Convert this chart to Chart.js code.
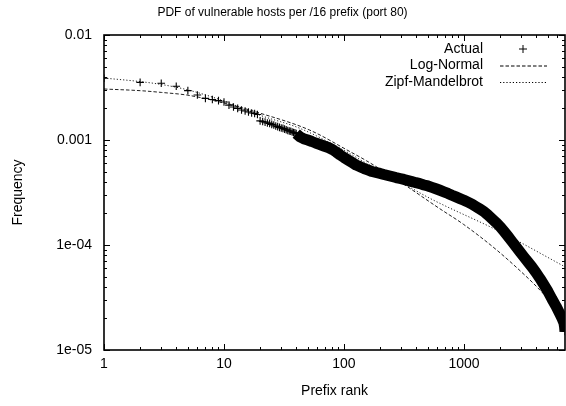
<!DOCTYPE html>
<html>
<head>
<meta charset="utf-8">
<script src="https://cdn.jsdelivr.net/npm/chart.js@4.4.1/dist/chart.umd.min.js"></script>
<style>
  html, body { margin: 0; padding: 0; background: #fff; }
  #wrap { width: 566px; height: 406px; }
</style>
</head>
<body>
<div id="wrap"><canvas id="chart" width="566" height="406"></canvas></div>
<script>
// values
var ranks = [1, 2, 3, 4, 5, 6, 7, 8, 9, 10, 11, 12, 13, 14, 15, 16, 17, 18, 19,
  20, 21, 22, 23, 24, 25, 26, 27, 28, 29, 30, 31, 32, 33, 34, 35, 36, 37, 38, 39, 40,
  43, 46, 50, 54, 58, 63, 68, 74, 80, 86,
  93, 100, 108, 117, 126, 136, 147, 158, 171, 185, 200, 215, 232, 251, 271, 293,
  316, 341, 368, 398, 430, 464, 501, 541, 584, 631, 681, 736, 794, 858, 926, 1000,
  1080, 1166, 1259, 1359, 1468, 1585, 1711, 1848, 1995, 2154, 2326, 2512, 2712,
  2929, 3162, 3415, 3687, 3981, 4299, 4642, 5012, 5412, 5843, 6310, 6600, 6813, 6900, 6950];
var actual = [0.00387, 0.00354, 0.00347, 0.00325, 0.00295, 0.00268, 0.00249, 0.00243,
  0.00237, 0.00230, 0.00215, 0.00206, 0.00200, 0.00193, 0.00189, 0.00185, 0.00181,
  0.00179, 0.00175,
  0.00152, 0.00150, 0.00148, 0.00145, 0.00144, 0.00141, 0.00139, 0.00136, 0.00134,
  0.00132, 0.00130, 0.00129, 0.00127, 0.00125, 0.00123, 0.00122, 0.00121, 0.00119,
  0.00118, 0.00117, 0.00115,
  0.00107, 0.00103, 0.00100, 0.000968, 0.000936, 0.000906,
  0.000877, 0.000848, 0.000812, 0.000769, 0.000720, 0.000681, 0.000645, 0.000610,
  0.000578, 0.000557, 0.000535, 0.000518, 0.000501, 0.000490, 0.000480, 0.000469,
  0.000459, 0.000449, 0.000439, 0.000430, 0.000421, 0.000411, 0.000402, 0.000392,
  0.000384, 0.000373, 0.000365, 0.000354, 0.000343, 0.000332, 0.000321, 0.000310,
  0.000298, 0.000287, 0.000277, 0.000267, 0.000256, 0.000245, 0.000232, 0.000220,
  0.000208, 0.000193, 0.000178, 0.000164, 0.000150, 0.000135, 0.000121, 0.000108,
  0.0000965, 0.0000862, 0.0000769, 0.0000689, 0.0000617, 0.0000547, 0.0000480,
  0.0000416, 0.0000361, 0.0000306, 0.0000262, 0.0000220, 0.0000198, 0.0000181,
  0.0000165, 0.0000150];

var lnRanks = [1, 2, 3, 5, 10, 20, 52, 112, 154, 293, 631, 986, 1873, 3548, 5923, 6950];
var lnFreq = [0.00306, 0.00295, 0.00284, 0.00267, 0.00225, 0.00180, 0.00124, 0.000776,
  0.000634, 0.000400, 0.000221, 0.000158, 0.0000896, 0.0000464, 0.0000258, 0.0000224];

var zmRanks = [1, 2, 3, 5, 10, 20, 43, 93, 154, 293, 521, 1995, 6950];
var zmFreq = [0.00389, 0.00360, 0.00338, 0.00300, 0.00235, 0.00172, 0.00129, 0.000835,
  0.000600, 0.000401, 0.000278, 0.000134, 0.0000620];

var seriesNames = ['Actual', 'Log-Normal', 'Zipf-Mandelbrot'];
var xTickValues = [1, 10, 100, 1000];
var xTickLabels = ['1', '10', '100', '1000'];
var yTickValues = [1e-5, 1e-4, 1e-3, 1e-2];
var yTickLabels = ['1e-05', '1e-04', '0.001', '0.01'];

var FONT = "'Liberation Sans', Arial, Helvetica, sans-serif";
Chart.defaults.font.family = FONT;
Chart.defaults.color = '#000';

function pairs(xs, ys) {
  return xs.map(function (x, i) { return {x: x, y: ys[i]}; });
}

function labelFor(values, labels, v) {
  for (var i = 0; i < values.length; i++) {
    if (Math.abs(Math.log10(v) - Math.log10(values[i])) < 1e-6) return labels[i];
  }
  return '';
}

// gnuplot style frame: box, inward ticks on all sides, key in the top right corner
var framePlugin = {
  id: 'frame',
  afterDraw: function (chart) {
    var ctx = chart.ctx, a = chart.chartArea;
    var xs = chart.scales.x, ys = chart.scales.y;
    ctx.save();
    ctx.strokeStyle = '#000';
    ctx.lineWidth = 1;
    ctx.setLineDash([]);

    ctx.beginPath();
    var k, m, v, p, len;
    for (k = 0; k <= 4; k++) {
      for (m = 1; m <= 9; m++) {
        v = m * Math.pow(10, k);
        if (v < xs.min || v > xs.max) continue;
        p = Math.round(xs.getPixelForValue(v)) + 0.5;
        len = m === 1 ? 6 : 3;
        ctx.moveTo(p, a.bottom); ctx.lineTo(p, a.bottom - len);
        ctx.moveTo(p, a.top); ctx.lineTo(p, a.top + len);
      }
    }
    for (k = -5; k <= -2; k++) {
      for (m = 1; m <= 9; m++) {
        v = m * Math.pow(10, k);
        if (v < ys.min * 0.999 || v > ys.max * 1.001) continue;
        p = Math.round(ys.getPixelForValue(v)) + 0.5;
        len = m === 1 ? 6 : 3;
        ctx.moveTo(a.left, p); ctx.lineTo(a.left + len, p);
        ctx.moveTo(a.right, p); ctx.lineTo(a.right - len, p);
      }
    }
    ctx.stroke();

    ctx.lineWidth = 1.6;
    ctx.strokeRect(a.left, a.top, a.right - a.left, a.bottom - a.top);

    // key
    ctx.font = '14px ' + FONT;
    ctx.fillStyle = '#000';
    ctx.textAlign = 'right';
    ctx.textBaseline = 'middle';
    var textX = 483, rowY = [49, 65.5, 82];
    ctx.fillText(seriesNames[0], textX, rowY[0]);
    ctx.fillText(seriesNames[1], textX, rowY[1]);
    ctx.fillText(seriesNames[2], textX, rowY[2]);

    ctx.lineWidth = 1;
    ctx.beginPath();
    ctx.moveTo(519, rowY[0]); ctx.lineTo(527, rowY[0]);
    ctx.moveTo(523, rowY[0] - 4); ctx.lineTo(523, rowY[0] + 4);
    ctx.stroke();

    ctx.setLineDash([3.5, 2]);
    ctx.beginPath();
    ctx.moveTo(500, rowY[1] + 0.5); ctx.lineTo(547, rowY[1] + 0.5);
    ctx.stroke();

    ctx.setLineDash([1.2, 2]);
    ctx.beginPath();
    ctx.moveTo(500, rowY[2] + 0.5); ctx.lineTo(547, rowY[2] + 0.5);
    ctx.stroke();
    ctx.restore();
  }
};

new Chart(document.getElementById('chart'), {
  type: 'scatter',
  data: {
    datasets: [
      {
        label: seriesNames[0],
        data: pairs(ranks, actual),
        pointStyle: 'cross',
        pointRadius: 3.8,
        pointBorderWidth: 1.1,
        borderColor: '#000',
        backgroundColor: '#000',
        // past rank 40 the crosses sit so close together they form a solid band
        showLine: true,
        borderWidth: 11,
        borderJoinStyle: 'round',
        segment: {
          borderColor: function (c) { return c.p0.parsed.x >= 40 ? '#000' : 'rgba(0,0,0,0)'; }
        }
      },
      {
        label: seriesNames[1],
        data: pairs(lnRanks, lnFreq),
        showLine: true,
        pointRadius: 0,
        borderColor: '#222',
        borderWidth: 1,
        borderDash: [3.5, 2],
        cubicInterpolationMode: 'monotone'
      },
      {
        label: seriesNames[2],
        data: pairs(zmRanks, zmFreq),
        showLine: true,
        pointRadius: 0,
        borderColor: '#222',
        borderWidth: 1,
        borderDash: [1.2, 2],
        cubicInterpolationMode: 'monotone'
      }
    ]
  },
  options: {
    responsive: false,
    animation: false,
    layout: { autoPadding: false, padding: { left: 0, right: 1, top: 0, bottom: 0 } },
    plugins: {
      legend: { display: false },
      tooltip: { enabled: false },
      title: {
        display: true,
        text: 'PDF of vulnerable hosts per /16 prefix (port 80)',
        font: { size: 12, weight: 'normal', family: FONT },
        color: '#000',
        padding: { top: 5, bottom: 15.6 }
      }
    },
    scales: {
      x: {
        type: 'logarithmic',
        min: 1,
        max: 6950,
        afterFit: function (scale) {
          scale.height = 56;
          scale.paddingLeft = 0;
          scale.paddingRight = 0;
        },
        grid: { display: false, drawTicks: false },
        border: { display: false },
        ticks: {
          autoSkip: false,
          maxRotation: 0,
          padding: 6,
          font: { size: 14 },
          callback: function (v) { return labelFor(xTickValues, xTickLabels, v); }
        },
        title: {
          display: true,
          text: 'Prefix rank',
          font: { size: 14 },
          padding: { top: 0, bottom: 6.5 }
        }
      },
      y: {
        type: 'logarithmic',
        min: 1e-5,
        max: 1e-2,
        afterFit: function (scale) { scale.width = 104; },
        grid: { display: false, drawTicks: false },
        border: { display: false },
        ticks: {
          autoSkip: false,
          padding: 12,
          font: { size: 14 },
          callback: function (v) { return labelFor(yTickValues, yTickLabels, v); }
        },
        title: {
          display: true,
          text: 'Frequency',
          font: { size: 14 },
          padding: { top: 10, bottom: 0 }
        }
      }
    }
  },
  plugins: [framePlugin]
});
</script>
</body>
</html>
